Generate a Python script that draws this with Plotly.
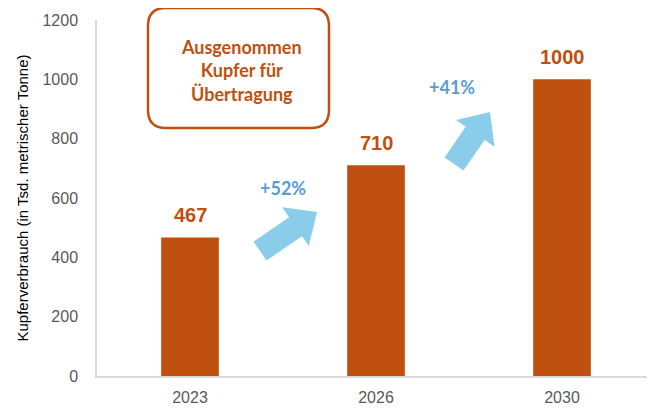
import plotly.graph_objects as go
import math

years = ["2023", "2026", "2030"]
values = [467, 710, 1000]
value_labels = ["467", "710", "1000"]
growth_labels = ["+52%", "+41%"]
y_ticks = [0, 200, 400, 600, 800, 1000, 1200]

OFF = 8  # page body margin
W, H = 655 - OFF, 412 - OFF
L, R, T, B = 97 - OFF, 0, 20 - OFF, 36
PW, PH = W - L - R, H - T - B

BAR = "#C0500F"
BLUE = "#89CDEB"
NARROW = "Liberation Sans Narrow, Arial Narrow, Liberation Sans, Arial"

def px(x, y):
    # x, y are pixel positions in the reference picture
    x -= OFF
    y -= OFF
    return ((x - L) / PW, (H - B - y) / PH)

def arrow_path(tail, tip, shaft_w, head_w, head_len):
    dx, dy = tip[0] - tail[0], tip[1] - tail[1]
    ln = math.hypot(dx, dy)
    ux, uy = dx / ln, dy / ln
    nx, ny = -uy, ux
    bx, by = tip[0] - ux * head_len, tip[1] - uy * head_len
    pts = [
        (tail[0] + nx * shaft_w / 2, tail[1] + ny * shaft_w / 2),
        (bx + nx * shaft_w / 2, by + ny * shaft_w / 2),
        (bx + nx * head_w / 2, by + ny * head_w / 2),
        tip,
        (bx - nx * head_w / 2, by - ny * head_w / 2),
        (bx - nx * shaft_w / 2, by - ny * shaft_w / 2),
        (tail[0] - nx * shaft_w / 2, tail[1] - ny * shaft_w / 2),
    ]
    p = [px(*q) for q in pts]
    return "M " + " L ".join(f"{a:.4f},{b:.4f}" for a, b in p) + " Z"

fig = go.Figure()
fig.add_trace(go.Bar(
    x=years, y=values, marker=dict(color=BAR, line=dict(width=0)),
    cliponaxis=False, width=0.31,
))

shapes = []
x0, y0 = px(148, 128)
x1, y1 = px(329, 8)
rx = 18 / PW
ry = 18 / PH
box = (f"M {x0+rx},{y1} L {x1-rx},{y1} Q {x1},{y1} {x1},{y1-ry} "
       f"L {x1},{y0+ry} Q {x1},{y0} {x1-rx},{y0} L {x0+rx},{y0} "
       f"Q {x0},{y0} {x0},{y0+ry} L {x0},{y1-ry} Q {x0},{y1} {x0+rx},{y1} Z")
shapes.append(dict(type="path", xref="paper", yref="paper", path=box,
                   line=dict(color=BAR, width=2.5), fillcolor="white"))
shapes.append(dict(type="path", xref="paper", yref="paper",
                   path=arrow_path((260, 251), (317, 212), 23, 47, 26),
                   fillcolor=BLUE, line=dict(width=0)))
shapes.append(dict(type="path", xref="paper", yref="paper",
                   path=arrow_path((454, 164), (490, 112), 23, 47, 26),
                   fillcolor=BLUE, line=dict(width=0)))

annotations = []
for i, (v, lbl) in enumerate(zip(values, value_labels)):
    annotations.append(dict(xref="x", yref="y", x=i, y=v, text=lbl,
                            xanchor="center", yanchor="middle", yshift=22,
                            showarrow=False,
                            font=dict(family=NARROW, size=20, color=BAR, weight="bold")))
bx_, by_ = px(241, 71)
annotations.append(dict(xref="paper", yref="paper", x=bx_, y=by_,
                        xanchor="center", yanchor="middle",
                        text="Ausgenommen<br>Kupfer für<br>Übertragung",
                        showarrow=False, align="center",
                        font=dict(family="Lato, Noto Sans", size=18, color=BAR, weight="bold")))
for lbl, (cx, cy) in zip(growth_labels, [(283, 188), (452, 87)]):
    ax_, ay_ = px(cx, cy)
    annotations.append(dict(xref="paper", yref="paper", x=ax_, y=ay_, text=lbl,
                            xanchor="center", yanchor="middle",
                            showarrow=False,
                            font=dict(family="Lato, Noto Sans", size=18, color="#5B9BD5", weight="bold")))

fig.update_layout(
    width=W, height=H, margin=dict(l=L, r=R, t=T, b=B, autoexpand=False),
    paper_bgcolor="white", plot_bgcolor="white",
    showlegend=False, shapes=shapes, annotations=annotations,
    xaxis=dict(type="category", showgrid=False, showline=True, linecolor="#D9D9D9", linewidth=1.5,
               ticks="", automargin=False,
               tickfont=dict(family=NARROW, size=16, color="#595959"),
               ticklabelstandoff=6),
    yaxis=dict(range=[0, 1200], tickvals=y_ticks, showgrid=False, showline=True,
               linecolor="#D9D9D9", linewidth=1.5, ticks="", zeroline=False,
               automargin=False,
               tickfont=dict(family=NARROW, size=16, color="#595959"),
               ticklabelstandoff=14,
               title=dict(text="Kupferverbrauch (in Tsd. metrischer Tonne)",
                          font=dict(family=NARROW, size=15, color="#000000"),
                          standoff=10)),
)
fig.write_html("out.html")
